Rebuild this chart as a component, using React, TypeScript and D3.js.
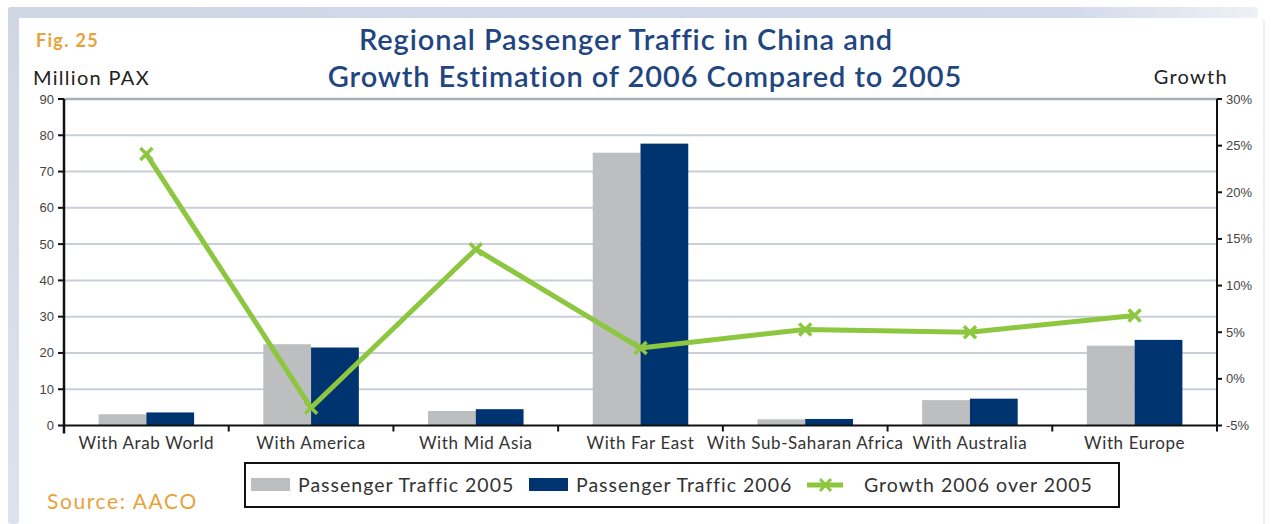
import React from "react";
import * as d3 from "d3";

const categories = [
  "With Arab World",
  "With America",
  "With Mid Asia",
  "With Far East",
  "With Sub-Saharan Africa",
  "With Australia",
  "With Europe",
];
const traffic2005 = [3.1, 22.4, 4.0, 75.2, 1.7, 7.0, 22.0];
const traffic2006 = [3.6, 21.5, 4.5, 77.7, 1.8, 7.4, 23.6];
const growth = [24.1, -3.1, 13.9, 3.3, 5.3, 5.0, 6.8];
const leftTicks = [0, 10, 20, 30, 40, 50, 60, 70, 80, 90];
const rightTicks = [-5, 0, 5, 10, 15, 20, 25, 30];
const seriesNames = ["Passenger Traffic 2005", "Passenger Traffic 2006", "Growth 2006 over 2005"];

const W = 1271;
const H = 524;
const M = { left: 64, right: 1217, top: 99, bottom: 425.5 };
const GREY = "#bcbec0";
const NAVY = "#003471";
const GREEN = "#8dc63f";
const TITLE = "#1f4680";
const ORANGE = "#e9a23b";
const FONT = "Lato, 'Open Sans', sans-serif";
const TICKFONT = "'Liberation Sans', Arial, sans-serif";

export default function App() {
  const x = d3.scaleBand<string>().domain(categories).range([M.left, M.right]).padding(0);
  const bw = x.bandwidth();
  const x1 = d3.scaleBand<string>().domain(["2005", "2006"]).range([bw * 0.21, bw * 0.79]).padding(0);
  const yL = d3.scaleLinear().domain([0, 90]).range([M.bottom, M.top]);
  const yR = d3.scaleLinear().domain([-5, 30]).range([M.bottom, M.top]);
  const line = d3
    .line<number>()
    .x((_, i) => (x(categories[i]) as number) + bw / 2)
    .y((d) => yR(d));

  const boundaries = categories.map((c) => x(c) as number).concat([M.right]);
  const mk = 6;

  return (
    <svg width={W} height={H} style={{ position: "absolute", left: 0, top: 0, background: "#fff" }}>
      <defs>
        <linearGradient id="topband" x1="0" x2="1" y1="0" y2="0">
          <stop offset="0" stopColor="#cfd6e4" />
          <stop offset="0.85" stopColor="#d3daea" />
          <stop offset="1" stopColor="#eef1f6" />
        </linearGradient>
        <linearGradient id="leftband" x1="0" x2="0" y1="0" y2="1">
          <stop offset="0" stopColor="#cfd6e4" />
          <stop offset="1" stopColor="#dde2ee" />
        </linearGradient>
      </defs>
      {/* frame */}
      <rect x={8} y={7} width={1250} height={11} fill="url(#topband)" rx={3} />
      <rect x={8} y={7} width={11} height={H - 7} fill="url(#leftband)" rx={3} />
      <rect x={19} y={18} width={1240} height={H - 18} fill="#fff" />
      <line x1={1264} x2={1264} y1={20} y2={H} stroke="#eef0f4" strokeWidth={2} />

      {/* titles */}
      <text x={36} y={47} fontFamily={FONT} fontWeight={700} fontSize={18} letterSpacing={1.3} fill={ORANGE}>
        Fig. 25
      </text>
      <text x={33} y={85} fontFamily={FONT} fontSize={20} letterSpacing={1.3} fill="#222">
        Million PAX
      </text>
      <text x={1228} y={84} textAnchor="end" fontFamily={FONT} fontSize={20} letterSpacing={1.3} fill="#222">
        Growth
      </text>
      <text x={626} y={50} textAnchor="middle" fontFamily={FONT} fontSize={29} letterSpacing={0.9} fill={TITLE} fontWeight={600}>
        Regional Passenger Traffic in China and
      </text>
      <text x={645} y={87} textAnchor="middle" fontFamily={FONT} fontSize={29} letterSpacing={0.9} fill={TITLE} fontWeight={600}>
        Growth Estimation of 2006 Compared to 2005
      </text>

      {/* gridlines */}
      {leftTicks
        .filter((t) => t > 0)
        .map((t) => (
          <line
            key={"g" + t}
            x1={M.left}
            x2={M.right}
            y1={yL(t)}
            y2={yL(t)}
            stroke={t === 90 ? "#a9adb5" : "#c9ced8"}
            strokeWidth={t === 90 ? 2.5 : 2}
          />
        ))}

      {/* bars */}
      {categories.map((c, i) => (
        <g key={c} transform={`translate(${x(c)},0)`}>
          <rect
            x={x1("2005")}
            width={x1.bandwidth()}
            y={yL(traffic2005[i])}
            height={yL(0) - yL(traffic2005[i])}
            fill={GREY}
          />
          <rect
            x={x1("2006")}
            width={x1.bandwidth()}
            y={yL(traffic2006[i])}
            height={yL(0) - yL(traffic2006[i])}
            fill={NAVY}
          />
        </g>
      ))}

      {/* growth line */}
      <path d={line(growth) || ""} fill="none" stroke={GREEN} strokeWidth={5} strokeLinejoin="round" />
      {growth.map((g, i) => {
        const cx = (x(categories[i]) as number) + bw / 2;
        const cy = yR(g);
        return (
          <g key={"m" + i} stroke={GREEN} strokeWidth={3.5}>
            <line x1={cx - mk} y1={cy - mk} x2={cx + mk} y2={cy + mk} />
            <line x1={cx - mk} y1={cy + mk} x2={cx + mk} y2={cy - mk} />
          </g>
        );
      })}

      {/* left axis */}
      <line x1={M.left} x2={M.left} y1={M.top} y2={M.bottom + 8} stroke="#111" strokeWidth={2.5} />
      {leftTicks.map((t) => (
        <g key={"l" + t}>
          <line x1={M.left - 6} x2={M.left} y1={yL(t)} y2={yL(t)} stroke="#111" strokeWidth={2} />
          <text
            x={M.left - 10}
            y={yL(t)}
            dy="0.35em"
            textAnchor="end"
            fontFamily={TICKFONT}
            fontSize={13}
            fill="#444"
          >
            {t}
          </text>
        </g>
      ))}

      {/* right axis */}
      <line x1={M.right} x2={M.right} y1={M.top} y2={M.bottom + 2} stroke="#111" strokeWidth={2} />
      {rightTicks.map((t) => (
        <g key={"r" + t}>
          <line x1={M.right} x2={M.right + 5} y1={yR(t)} y2={yR(t)} stroke="#111" strokeWidth={2} />
          <text x={M.right + 9} y={yR(t)} dy="0.35em" fontFamily={TICKFONT} fontSize={13} fill="#444">
            {t}%
          </text>
        </g>
      ))}

      {/* bottom axis */}
      <line x1={M.left} x2={M.right} y1={M.bottom} y2={M.bottom} stroke="#111" strokeWidth={2} />
      {boundaries.map((b, i) => (
        <line key={"b" + i} x1={b} x2={b} y1={M.bottom} y2={M.bottom + 6} stroke="#111" strokeWidth={2} />
      ))}
      {categories.map((c) => (
        <text
          key={"t" + c}
          x={(x(c) as number) + bw / 2}
          y={449}
          textAnchor="middle"
          fontFamily={FONT}
          fontSize={17}
          letterSpacing={0.6}
          fill="#333"
        >
          {c}
        </text>
      ))}

      {/* legend */}
      <rect x={245} y={463} width={874} height={44} fill="#fff" stroke="#111" strokeWidth={2} />
      <rect x={251} y={478} width={39} height={13} fill={GREY} />
      <text x={298} y={492} fontFamily={FONT} fontSize={19.5} letterSpacing={1.0} fill="#333">
        {seriesNames[0]}
      </text>
      <rect x={529} y={478} width={39} height={13} fill={NAVY} />
      <text x={576} y={492} fontFamily={FONT} fontSize={19.5} letterSpacing={1.0} fill="#333">
        {seriesNames[1]}
      </text>
      <line x1={807} x2={843} y1={485} y2={485} stroke={GREEN} strokeWidth={5} />
      <g stroke={GREEN} strokeWidth={3}>
        <line x1={820} y1={479} x2={831} y2={491} />
        <line x1={820} y1={491} x2={831} y2={479} />
      </g>
      <text x={864} y={492} fontFamily={FONT} fontSize={19.5} letterSpacing={1.0} fill="#333">
        {seriesNames[2]}
      </text>

      <text x={47} y={509} fontFamily={FONT} fontSize={21} letterSpacing={1.6} fill={ORANGE}>
        Source: AACO
      </text>
    </svg>
  );
}
